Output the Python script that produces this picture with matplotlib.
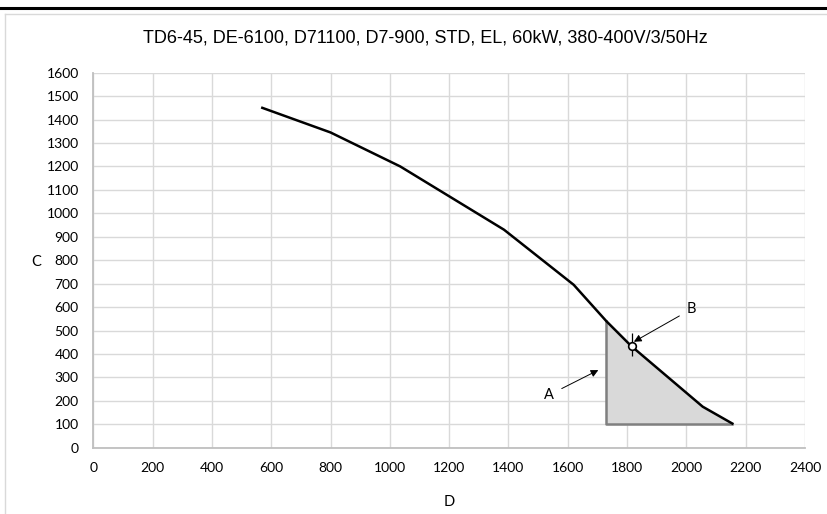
import numpy as np
import matplotlib
matplotlib.use('Agg')
import matplotlib.pyplot as plt
from matplotlib.lines import Line2D

# =====================
# DATA
# =====================
curve_x = [570, 800, 1035, 1385, 1620, 1730, 1813, 2055, 2155]
curve_y = [1450, 1345, 1200, 930, 695, 540, 435, 175, 103]

shade_start = 1730
shade_base = 100

point_b = (1816, 435)
point_b_err = (45, 55)   # below, above

label_a = "A"
label_a_xy = (1537, 225)
arrow_a_tip = (1703, 331)
label_b = "B"
label_b_xy = (2018, 592)
arrow_b_tip = (1823, 452)

title = "TD6-45, DE-6100, D71100, D7-900, STD, EL, 60kW, 380-400V/3/50Hz"
x_ticks = list(range(0, 2401, 200))
y_ticks = list(range(0, 1601, 100))

# =====================
# FIGURE
# =====================
fig = plt.figure(figsize=(8.27, 5.14), dpi=100)
ax = fig.add_axes([0.1128, 0.1290, 0.8606, 0.7296])

# frame decoration like the exported chart
fig.add_artist(Line2D([0, 1], [1 - 8 / 514, 1 - 8 / 514], color='black', lw=2.2))
fig.add_artist(Line2D([5 / 827, 1], [1 - 13.5 / 514, 1 - 13.5 / 514], color='#d9d9d9', lw=1))
fig.add_artist(Line2D([5 / 827, 5 / 827], [0, 1 - 13.5 / 514], color='#d9d9d9', lw=1))

ax.set_xlim(0, 2400)
ax.set_ylim(0, 1600)
ax.set_xticks(x_ticks)
ax.set_yticks(y_ticks)
ax.grid(True, color='#d9d9d9', lw=1)
ax.set_axisbelow(True)
ax.tick_params(length=0, labelsize=10)
ax.tick_params(axis='y', pad=10.5)
ax.tick_params(axis='x', pad=10)
for lab in ax.get_xticklabels() + ax.get_yticklabels():
    lab.set_family('Lato')
    lab.set_color('#000000')
for s in ['top', 'right']:
    ax.spines[s].set_visible(False)
for s in ['left', 'bottom']:
    ax.spines[s].set_color('#bfbfbf')
    ax.spines[s].set_linewidth(1.3)

# shaded operating area below the curve
xs = np.array(curve_x, dtype=float)
ys = np.array(curve_y, dtype=float)
mask = xs > shade_start
sx = np.concatenate([[shade_start], xs[mask]])
sy = np.concatenate([[np.interp(shade_start, xs, ys)], ys[mask]])
ax.fill_between(sx, shade_base, sy, color='#d9d9d9', lw=0, zorder=2)
ax.plot([shade_start, shade_start, sx[-1]], [sy[0], shade_base, shade_base],
        color='#7f7f7f', lw=1.8, zorder=3)

# main curve
ax.plot(curve_x, curve_y, color='black', lw=1.8, zorder=4)

# point B with small vertical tick
ax.errorbar([point_b[0]], [point_b[1]], yerr=[[point_b_err[0]], [point_b_err[1]]],
            fmt='o', ms=5.5, mfc='white', mec='black', mew=1.2,
            ecolor='black', elinewidth=0.9, capsize=0, zorder=5)

arrow = dict(arrowstyle='-|>', color='black', lw=0.7, mutation_scale=11,
             shrinkA=4, shrinkB=0)
ax.annotate(label_a, xy=arrow_a_tip, xytext=label_a_xy, fontsize=10.5,
            family='Lato', ha='center', va='center', arrowprops=arrow, zorder=6)
ax.annotate(label_b, xy=arrow_b_tip, xytext=label_b_xy, fontsize=10.5,
            family='Lato', ha='center', va='center', arrowprops=arrow, zorder=6)

fig.text(425 / 827, 1 - 38 / 514, title, fontsize=13, family='Liberation Sans',
         ha='center', va='center')
fig.text(36 / 827, 1 - 262 / 514, "C", fontsize=10.5, family='Lato', ha='center', va='center')
fig.text(449 / 827, 1 - 502 / 514, "D", fontsize=10.5, family='Lato', ha='center', va='center')

fig.savefig('out.png', dpi=100)
